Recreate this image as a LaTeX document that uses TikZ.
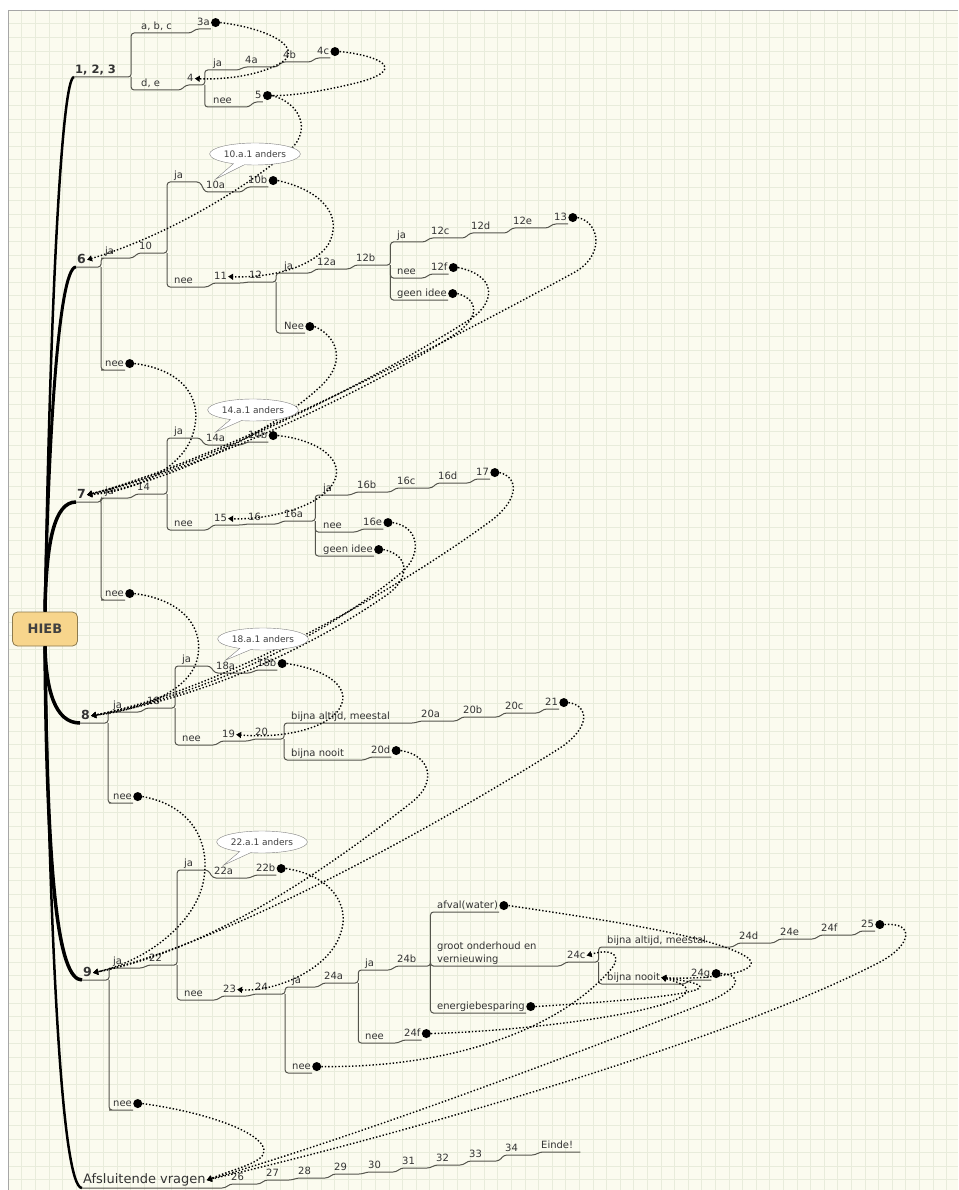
\documentclass[tikz,border=0pt]{standalone}
\usepackage{fontspec}
\setmainfont{DejaVu Sans}
\usetikzlibrary{shapes.callouts, arrows.meta, positioning, calc}

\definecolor{paper}{HTML}{FBFBEF}
\definecolor{gridline}{HTML}{E8ECDB}
\definecolor{twig}{HTML}{55554D}
\definecolor{hubfill}{HTML}{F7D58C}
\definecolor{hubdraw}{HTML}{8C7A4E}

\tikzstyle{lbl} = [anchor=south west, inner xsep=1pt, inner ysep=1.5pt, text height=7.5pt, text depth=2pt, font=\fontsize{10}{13}\selectfont, text=black!80]
\tikzstyle{sec} = [lbl, text height=9pt, font=\fontsize{12.5}{14}\selectfont\bfseries]
\tikzstyle{bullet} = [circle, fill=black, inner sep=0pt, minimum size=9pt]
\tikzstyle{hub} = [rectangle, rounded corners=5pt, draw=hubdraw, fill=hubfill, line width=0.8pt, minimum width=65pt, minimum height=34pt, font=\fontsize{13}{15}\selectfont\bfseries, text=black!75]
\tikzstyle{branch} = [twig, line width=1pt, rounded corners=3pt]
\tikzstyle{spine} = [black, line width=3pt]
\tikzstyle{link} = [dash pattern=on 1.4pt off 2pt, line width=1.4pt, -{Triangle[length=5pt,width=6pt]}]
\tikzstyle{remark} = [ellipse callout, draw=black!50, fill=white, inner sep=1pt, minimum height=22pt, font=\fontsize{9}{11}\selectfont, text=black!75]
\tikzset{stp/.style={to path={-- ($(\tikztotarget |- \tikztostart)+(-5pt,0)$) -- (\tikztotarget)}}}

\begin{document}
\begin{tikzpicture}[x=1pt, y=-1pt]
 \useasboundingbox (0,0) rectangle (958,1190);
 % paper and grid
 \fill[white] (0,0) rectangle (958,1190);
 \fill[paper] (8,10) rectangle (958,1190);
 \foreach \gx in {0,...,69} \draw[gridline, line width=0.5pt] ({8+13.6*\gx},10) -- ({8+13.6*\gx},1190);
 \foreach \gy in {0,...,86} \draw[gridline, line width=0.5pt] (8,{10+13.6*\gy}) -- (958,{10+13.6*\gy});
 \draw[black!35] (8,1190) -- (8,10) -- (958,10);

 \node (hieb) [hub] at (45,629) {HIEB};

 % 1, 2, 3
 \node (q123) [sec, font=\fontsize{11.5}{13}\selectfont\bfseries] at (74,77) {1, 2, 3};
 \coordinate (s123) at ($(q123.south east)+(14,0)$);
 \node (qabc) [lbl] at (140,33) {a, b, c};
 \node (q3a) [lbl] at (196,29) {3a};
 \node (d3a) [bullet, right=0pt of q3a] {};
 \node (qde) [lbl] at (140,90) {d, e};
 \node (q4) [lbl] at (186,85) {4};
 \coordinate (s4) at ($(q4.south east)+(10,0)$);
 \node (qja4) [lbl] at (212,70) {ja};
 \node (q4a) [lbl] at (244,67) {4a};
 \node (q4b) [lbl] at (282,62) {4b};
 \node (q4c) [lbl] at (316,58) {4c};
 \node (d4c) [bullet, right=0pt of q4c] {};
 \node (qnee4) [lbl] at (212,107) {nee};
 \node (q5) [lbl] at (254,102) {5};
 \node (d5) [bullet, right=0pt of q5] {};

 % 6
 \node (q6) [sec] at (76,267) {6};
 \coordinate (s6) at ($(q6.south east)+(14,0)$);
 \node (qja6) [lbl] at (104,258) {ja};
 \node (q10) [lbl] at (138,253) {10};
 \coordinate (s10) at ($(q10.south east)+(14,0)$);
 \node (qja10) [lbl] at (173,182) {ja};
 \node (q10a) [lbl] at (205,192) {10a};
 \node (q10b) [lbl] at (247,187) {10b};
 \node (d10b) [bullet, right=0pt of q10b] {};
 \node (qnee10) [lbl] at (173,287) {nee};
 \node (q11) [lbl] at (213,283) {11};
 \node (q12) [lbl] at (248,282) {12};
 \coordinate (s12) at ($(q12.south east)+(13,0)$);
 \node (qja12) [lbl] at (283,273) {ja};
 \node (q12a) [lbl] at (316,269) {12a};
 \node (q12b) [lbl] at (355,265) {12b};
 \coordinate (s12b) at ($(q12b.south east)+(14,0)$);
 \node (qja12b) [lbl] at (396,242) {ja};
 \node (q12c) [lbl] at (430,238) {12c};
 \node (q12d) [lbl] at (470,233) {12d};
 \node (q12e) [lbl] at (512,228) {12e};
 \node (q13) [lbl] at (553,224) {13};
 \node (d13) [bullet, right=0pt of q13] {};
 \node (qnee12b) [lbl] at (396,278) {nee};
 \node (q12f) [lbl] at (430,274) {12f};
 \node (d12f) [bullet, right=0pt of q12f] {};
 \node (qgi12) [lbl] at (396,300) {geen idee};
 \node (dgi12) [bullet, right=0pt of qgi12] {};
 \node (qnee12) [lbl] at (283,333) {Nee};
 \node (dnee12) [bullet, right=0pt of qnee12] {};
 \node (qnee6) [lbl] at (104,370) {nee};
 \node (dnee6) [bullet, right=0pt of qnee6] {};

 % 7
 \node (q7) [sec] at (76,502) {7};
 \coordinate (s7) at ($(q7.south east)+(14,0)$);
 \node (qja7) [lbl] at (104,498) {ja};
 \node (q14) [lbl] at (136,494) {14};
 \coordinate (s14) at ($(q14.south east)+(16,0)$);
 \node (qja14) [lbl] at (173,438) {ja};
 \node (q14a) [lbl] at (205,445) {14a};
 \node (q14b) [lbl] at (247,442) {14b};
 \node (d14b) [bullet, right=0pt of q14b] {};
 \node (qnee14) [lbl] at (173,530) {nee};
 \node (q15) [lbl] at (213,525) {15};
 \node (q16) [lbl] at (247,524) {16};
 \node (q16a) [lbl] at (283,521) {16a};
 \coordinate (s16) at ($(q16a.south east)+(11,0)$);
 \node (qja16) [lbl] at (322,495) {ja};
 \node (q16b) [lbl] at (356,492) {16b};
 \node (q16c) [lbl] at (396,488) {16c};
 \node (q16d) [lbl] at (437,483) {16d};
 \node (q17) [lbl] at (475,479) {17};
 \node (d17) [bullet, right=0pt of q17] {};
 \node (qnee16) [lbl] at (322,532) {nee};
 \node (q16e) [lbl] at (362,529) {16e};
 \node (d16e) [bullet, right=0pt of q16e] {};
 \node (qgi16) [lbl] at (322,556) {geen idee};
 \node (dgi16) [bullet, right=0pt of qgi16] {};
 \node (qnee7) [lbl] at (104,600) {nee};
 \node (dnee7) [bullet, right=0pt of qnee7] {};

 % 8
 \node (q8) [sec] at (80,723) {8};
 \coordinate (s8) at ($(q8.south east)+(17,0)$);
 \node (qja8) [lbl] at (112,712) {ja};
 \node (q18) [lbl] at (146,708) {18};
 \coordinate (s18) at ($(q18.south east)+(14,0)$);
 \node (qja18) [lbl] at (181,666) {ja};
 \node (q18a) [lbl] at (215,673) {18a};
 \node (q18b) [lbl] at (256,670) {18b};
 \node (d18b) [bullet, right=0pt of q18b] {};
 \node (qnee18) [lbl] at (181,745) {nee};
 \node (q19) [lbl] at (221,741) {19};
 \node (q20) [lbl] at (254,739) {20};
 \coordinate (s20) at ($(q20.south east)+(15,0)$);
 \node (qalt20) [lbl] at (290,723) {bijna altijd, meestal};
 \node (q20a) [lbl] at (420,721) {20a};
 \node (q20b) [lbl] at (462,717) {20b};
 \node (q20c) [lbl] at (504,713) {20c};
 \node (q21) [lbl] at (544,709) {21};
 \node (d21) [bullet, right=0pt of q21] {};
 \node (qnooit20) [lbl] at (290,760) {bijna nooit};
 \node (q20d) [lbl] at (370,757) {20d};
 \node (d20d) [bullet, right=0pt of q20d] {};
 \node (qnee8) [lbl] at (112,803) {nee};
 \node (dnee8) [bullet, right=0pt of qnee8] {};

 % 9
 \node (q9) [sec] at (82,980) {9};
 \coordinate (s9) at ($(q9.south east)+(16,0)$);
 \node (qja9) [lbl] at (112,968) {ja};
 \node (q22) [lbl] at (148,965) {22};
 \coordinate (s22) at ($(q22.south east)+(14,0)$);
 \node (qja22) [lbl] at (183,870) {ja};
 \node (q22a) [lbl] at (213,878) {22a};
 \node (q22b) [lbl] at (255,875) {22b};
 \node (d22b) [bullet, right=0pt of q22b] {};
 \node (qnee22) [lbl] at (183,1000) {nee};
 \node (q23) [lbl] at (222,996) {23};
 \node (q24) [lbl] at (254,994) {24};
 \coordinate (s24) at ($(q24.south east)+(16,0)$);
 \node (qja24) [lbl] at (291,987) {ja};
 \node (q24a) [lbl] at (323,983) {24a};
 \coordinate (s24a) at ($(q24a.south east)+(14,0)$);
 \node (qja24a) [lbl] at (364,970) {ja};
 \node (q24b) [lbl] at (396,966) {24b};
 \coordinate (s24b) at ($(q24b.south east)+(13,0)$);
 \node (qafval) [lbl] at (436,912) {afval(water)};
 \node (dafval) [bullet, right=0pt of qafval] {};
 \node (qgroot) [lbl, text height=, text depth=, align=left] at (436,966) {groot onderhoud en\\vernieuwing};
 \node (q24c) [lbl] at (566,962) {24c};
 \coordinate (s24c) at ($(q24c.south east)+(12,0)$);
 \node (qalt24) [lbl] at (606,947) {bijna altijd, meestal};
 \node (q24d) [lbl] at (738,943) {24d};
 \node (q24e) [lbl] at (779,939) {24e};
 \node (q24f) [lbl] at (820,935) {24f};
 \node (q25) [lbl] at (860,931) {25};
 \node (d25) [bullet, right=0pt of q25] {};
 \node (qnooit24) [lbl] at (606,984) {bijna nooit};
 \node (q24g) [lbl] at (690,980) {24g};
 \node (d24g) [bullet, right=0pt of q24g] {};
 \node (qener) [lbl] at (436,1013) {energiebesparing};
 \node (dener) [bullet, right=0pt of qener] {};
 \node (qnee24a) [lbl] at (364,1043) {nee};
 \node (q24f2) [lbl] at (403,1040) {24f};
 \node (d24f2) [bullet, right=0pt of q24f2] {};
 \node (qnee24) [lbl] at (291,1073) {nee};
 \node (dnee24) [bullet, right=0pt of qnee24] {};
 \node (qnee9) [lbl] at (112,1110) {nee};
 \node (dnee9) [bullet, right=0pt of qnee9] {};

 % closing questions
 \node (qafs) [lbl, text height=9.5pt, text depth=3pt, font=\fontsize{13}{15}\selectfont] at (82,1188) {Afsluitende vragen};
 \node (q26) [lbl] at (230,1184) {26};
 \node (q27) [lbl] at (265,1180) {27};
 \node (q28) [lbl] at (297,1178) {28};
 \node (q29) [lbl] at (333,1174) {29};
 \node (q30) [lbl] at (367,1172) {30};
 \node (q31) [lbl] at (401,1168) {31};
 \node (q32) [lbl] at (435,1165) {32};
 \node (q33) [lbl] at (468,1161) {33};
 \node (q34) [lbl] at (504,1155) {34};
 \node (qend) [lbl] at (540,1152) {Einde!};

 % spine
 \draw[spine, line width=2.5pt] (hieb.north) .. controls (50,300) and (62,77) .. (q123.south west);
 \draw[spine] (hieb.north) .. controls (48,450) and (58,267) .. (q6.south west);
 \draw[spine, line width=3.5pt] (hieb.north) .. controls (46,540) and (55,502) .. (q7.south west);
 \draw[spine, line width=3.5pt] (hieb.south) .. controls (46,690) and (55,723) .. (q8.south west);
 \draw[spine, line width=3.5pt] (hieb.south) .. controls (47,880) and (58,980) .. (q9.south west);
 \draw[spine, line width=2.5pt] (hieb.south) .. controls (50,950) and (62,1188) .. (qafs.south west);

 % branches
 \draw[branch] (q123.south west) -- (s123) |- (qabc.south west) -- (qabc.south east) to[stp] (q3a.south west) -- (q3a.south east);
 \draw[branch] (s123) |- (qde.south west) -- (qde.south east) to[stp] (q4.south west) -- (s4) |- (qja4.south west) -- (qja4.south east) to[stp] (q4a.south west) -- (q4a.south east) to[stp] (q4b.south west) -- (q4b.south east) to[stp] (q4c.south west) -- (q4c.south east);
 \draw[branch] (s4) |- (qnee4.south west) -- (qnee4.south east) to[stp] (q5.south west) -- (q5.south east);

 \draw[branch] (q6.south west) -- (s6) |- (qja6.south west) -- (qja6.south east) to[stp] (q10.south west) -- (s10) |- (qja10.south west) -- (qja10.south east) to[stp] (q10a.south west) -- (q10a.south east) to[stp] (q10b.south west) -- (q10b.south east);
 \draw[branch] (s10) |- (qnee10.south west) -- (qnee10.south east) to[stp] (q11.south west) -- (q11.south east) to[stp] (q12.south west) -- (s12) |- (qja12.south west) -- (qja12.south east) to[stp] (q12a.south west) -- (q12a.south east) to[stp] (q12b.south west) -- (s12b) |- (qja12b.south west) -- (qja12b.south east) to[stp] (q12c.south west) -- (q12c.south east) to[stp] (q12d.south west) -- (q12d.south east) to[stp] (q12e.south west) -- (q12e.south east) to[stp] (q13.south west) -- (q13.south east);
 \draw[branch] (s12b) |- (qnee12b.south west) -- (qnee12b.south east) to[stp] (q12f.south west) -- (q12f.south east);
 \draw[branch] (s12b) |- (qgi12.south west) -- (qgi12.south east);
 \draw[branch] (s12) |- (qnee12.south west) -- (qnee12.south east);
 \draw[branch] (s6) |- (qnee6.south west) -- (qnee6.south east);

 \draw[branch] (q7.south west) -- (s7) |- (qja7.south west) -- (qja7.south east) to[stp] (q14.south west) -- (s14) |- (qja14.south west) -- (qja14.south east) to[stp] (q14a.south west) -- (q14a.south east) to[stp] (q14b.south west) -- (q14b.south east);
 \draw[branch] (s14) |- (qnee14.south west) -- (qnee14.south east) to[stp] (q15.south west) -- (q15.south east) to[stp] (q16.south west) -- (q16.south east) to[stp] (q16a.south west) -- (s16) |- (qja16.south west) -- (qja16.south east) to[stp] (q16b.south west) -- (q16b.south east) to[stp] (q16c.south west) -- (q16c.south east) to[stp] (q16d.south west) -- (q16d.south east) to[stp] (q17.south west) -- (q17.south east);
 \draw[branch] (s16) |- (qnee16.south west) -- (qnee16.south east) to[stp] (q16e.south west) -- (q16e.south east);
 \draw[branch] (s16) |- (qgi16.south west) -- (qgi16.south east);
 \draw[branch] (s7) |- (qnee7.south west) -- (qnee7.south east);

 \draw[branch] (q8.south west) -- (s8) |- (qja8.south west) -- (qja8.south east) to[stp] (q18.south west) -- (s18) |- (qja18.south west) -- (qja18.south east) to[stp] (q18a.south west) -- (q18a.south east) to[stp] (q18b.south west) -- (q18b.south east);
 \draw[branch] (s18) |- (qnee18.south west) -- (qnee18.south east) to[stp] (q19.south west) -- (q19.south east) to[stp] (q20.south west) -- (s20) |- (qalt20.south west) -- (qalt20.south east) to[stp] (q20a.south west) -- (q20a.south east) to[stp] (q20b.south west) -- (q20b.south east) to[stp] (q20c.south west) -- (q20c.south east) to[stp] (q21.south west) -- (q21.south east);
 \draw[branch] (s20) |- (qnooit20.south west) -- (qnooit20.south east) to[stp] (q20d.south west) -- (q20d.south east);
 \draw[branch] (s8) |- (qnee8.south west) -- (qnee8.south east);

 \draw[branch] (q9.south west) -- (s9) |- (qja9.south west) -- (qja9.south east) to[stp] (q22.south west) -- (s22) |- (qja22.south west) -- (qja22.south east) to[stp] (q22a.south west) -- (q22a.south east) to[stp] (q22b.south west) -- (q22b.south east);
 \draw[branch] (s22) |- (qnee22.south west) -- (qnee22.south east) to[stp] (q23.south west) -- (q23.south east) to[stp] (q24.south west) -- (s24) |- (qja24.south west) -- (qja24.south east) to[stp] (q24a.south west) -- (s24a) |- (qja24a.south west) -- (qja24a.south east) to[stp] (q24b.south west) -- (s24b) |- (qafval.south west) -- (qafval.south east);
 \draw[branch] (s24b) |- (qgroot.south west) -- (qgroot.south east) to[stp] (q24c.south west) -- (s24c) |- (qalt24.south west) -- (qalt24.south east) to[stp] (q24d.south west) -- (q24d.south east) to[stp] (q24e.south west) -- (q24e.south east) to[stp] (q24f.south west) -- (q24f.south east) to[stp] (q25.south west) -- (q25.south east);
 \draw[branch] (s24c) |- (qnooit24.south west) -- (qnooit24.south east) to[stp] (q24g.south west) -- (q24g.south east);
 \draw[branch] (s24b) |- (qener.south west) -- (qener.south east);
 \draw[branch] (s24a) |- (qnee24a.south west) -- (qnee24a.south east) to[stp] (q24f2.south west) -- (q24f2.south east);
 \draw[branch] (s24) |- (qnee24.south west) -- (qnee24.south east);
 \draw[branch] (s9) |- (qnee9.south west) -- (qnee9.south east);

 \draw[branch] (qafs.south west) -- (qafs.south east) to[stp] (q26.south west) -- (q26.south east) to[stp] (q27.south west) -- (q27.south east) to[stp] (q28.south west) -- (q28.south east) to[stp] (q29.south west) -- (q29.south east) to[stp] (q30.south west) -- (q30.south east) to[stp] (q31.south west) -- (q31.south east) to[stp] (q32.south west) -- (q32.south east) to[stp] (q33.south west) -- (q33.south east) to[stp] (q34.south west) -- (q34.south east) to[stp] (qend.south west) -- ($(qend.south east)+(6,0)$);

 % jumps
 \draw[link] (d3a.east) .. controls (265,28) and (300,45) .. (285,60) .. controls (265,75) and (225,80) .. (q4.east);
 \draw[link, -] (d4c.east) .. controls (375,55) and (410,68) .. (360,82) .. controls (320,92) and (290,96) .. (d5.east);
 \draw[link] (d5.east) .. controls (300,103) and (312,130) .. (290,150) .. controls (250,185) and (170,235) .. (q6.east);
 \draw[link] (d10b.east) .. controls (320,190) and (345,215) .. (328,245) .. controls (310,270) and (265,278) .. (q11.east);
 \draw[link] (dnee12.east) .. controls (335,335) and (348,360) .. (322,385) .. controls (270,435) and (160,485) .. (q7.east);
 \draw[link] (d13.east) .. controls (600,222) and (605,255) .. (575,272) .. controls (460,335) and (220,460) .. (q7.east);
 \draw[link] (d12f.east) .. controls (495,275) and (497,300) .. (472,318) .. controls (400,365) and (220,462) .. (q7.east);
 \draw[link] (dgi12.east) .. controls (480,300) and (478,318) .. (458,332) .. controls (400,372) and (220,465) .. (q7.east);
 \draw[link] (dnee6.east) .. controls (185,370) and (202,400) .. (194,430) .. controls (185,470) and (130,492) .. (q7.east);
 \draw[link] (d14b.east) .. controls (320,440) and (348,462) .. (332,485) .. controls (315,510) and (262,520) .. (q15.east);
 \draw[link] (d17.east) .. controls (520,478) and (518,500) .. (492,520) .. controls (390,595) and (220,690) .. (q8.east);
 \draw[link] (d16e.east) .. controls (420,527) and (422,555) .. (402,572) .. controls (340,625) and (220,692) .. (q8.east);
 \draw[link] (dgi16.east) .. controls (410,555) and (410,578) .. (388,594) .. controls (330,635) and (220,695) .. (q8.east);
 \draw[link] (dnee7.east) .. controls (185,600) and (205,630) .. (197,660) .. controls (188,692) and (140,710) .. (q8.east);
 \draw[link] (d18b.east) .. controls (330,670) and (355,690) .. (337,712) .. controls (318,733) and (272,738) .. (q19.east);
 \draw[link] (d21.east) .. controls (590,706) and (590,728) .. (560,748) .. controls (430,830) and (220,945) .. (q9.east);
 \draw[link] (d20d.east) .. controls (430,755) and (438,782) .. (412,802) .. controls (345,855) and (220,948) .. (q9.east);
 \draw[link] (dnee8.east) .. controls (190,805) and (210,840) .. (204,878) .. controls (198,920) and (150,960) .. (q9.east);
 \draw[link] (d22b.east) .. controls (330,875) and (352,905) .. (340,935) .. controls (328,970) and (275,992) .. (q23.east);
 \draw[link] (dafval.east) .. controls (620,922) and (720,938) .. (748,958) .. controls (765,972) and (710,980) .. (qnooit24.east);
 \draw[link] (dener.east) .. controls (640,1000) and (760,990) .. (qnooit24.east);
 \draw[link] (d24f2.east) .. controls (560,1030) and (750,1000) .. (qnooit24.east);
 \draw[link] (dnee24.east) .. controls (450,1068) and (560,1030) .. (612,968) .. controls (622,955) and (612,948) .. (q24c.east);
 \draw[link] (d25.east) .. controls (915,922) and (912,945) .. (880,962) .. controls (720,1045) and (380,1140) .. (qafs.east);
 \draw[link] (d24g.east) .. controls (745,975) and (740,990) .. (700,1005) .. controls (560,1060) and (360,1135) .. (qafs.east);
 \draw[link] (dnee9.east) .. controls (205,1112) and (262,1132) .. (264,1150) .. controls (265,1162) and (240,1167) .. (qafs.east);

 % remarks
 \node (c10) [remark, callout absolute pointer={(q10a.north)}] at (255,154) {10.a.1 anders};
 \node (c14) [remark, callout absolute pointer={(q14a.north)}] at (253,410) {14.a.1 anders};
 \node (c18) [remark, callout absolute pointer={(q18a.north)}] at (263,639) {18.a.1 anders};
 \node (c22) [remark, callout absolute pointer={(q22a.north)}] at (262,842) {22.a.1 anders};
\end{tikzpicture}
\end{document}
